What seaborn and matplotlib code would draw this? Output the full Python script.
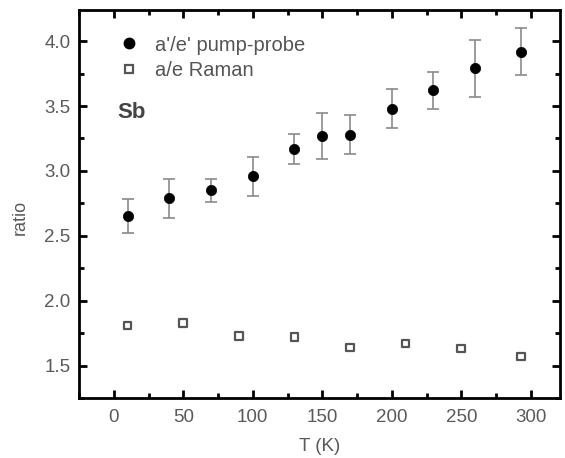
import matplotlib
matplotlib.use("Agg")
import matplotlib.pyplot as plt
from matplotlib.ticker import MultipleLocator
from matplotlib.lines import Line2D
import seaborn as sns
import pandas as pd

# Data
pp_T = [10, 40, 70, 100, 130, 150, 170, 200, 230, 260, 293]
pp_ratio = [2.65, 2.79, 2.85, 2.96, 3.17, 3.27, 3.28, 3.48, 3.62, 3.79, 3.92]
pp_err = [0.13, 0.15, 0.09, 0.15, 0.115, 0.18, 0.15, 0.15, 0.14, 0.22, 0.18]

raman_T = [10, 50, 90, 130, 170, 210, 250, 293]
raman_ratio = [1.81, 1.83, 1.73, 1.72, 1.64, 1.67, 1.63, 1.57]

label_pp = "a'/e' pump-probe"
label_raman = "a/e Raman"

sns.set_theme(style="ticks")
plt.rcParams['font.family'] = ['Liberation Sans', 'DejaVu Sans']

fig = plt.figure(figsize=(5.65, 4.58), dpi=100)
ax = fig.add_axes([79/565, 1 - 398/458, (560-79)/565, (398-10)/458])

df_pp = pd.DataFrame({"T": pp_T, "ratio": pp_ratio, "err": pp_err})
df_r = pd.DataFrame({"T": raman_T, "ratio": raman_ratio})

ax.errorbar(df_pp["T"], df_pp["ratio"], yerr=df_pp["err"], fmt="none",
            ecolor="#8a8a8a", elinewidth=1.2, capsize=4, capthick=1.2, zorder=2)
sns.scatterplot(data=df_pp, x="T", y="ratio", ax=ax, marker="o", s=55,
                color="black", edgecolor="black", linewidth=0.5, zorder=3)
sns.scatterplot(data=df_r, x="T", y="ratio", ax=ax, marker="s", s=30,
                facecolor="none", edgecolor="#555555", linewidth=1.6, zorder=3)

ax.set_xlim(-25, 321)
ax.set_ylim(1.25, 4.24)
ax.xaxis.set_major_locator(MultipleLocator(50))
ax.xaxis.set_minor_locator(MultipleLocator(25))
ax.yaxis.set_major_locator(MultipleLocator(0.5))
ax.yaxis.set_minor_locator(MultipleLocator(0.25))
ax.tick_params(which="both", direction="in", top=True, right=True, colors="black",
               labelcolor="#5a5a5a", labelsize=13.5)
ax.tick_params(which="major", length=6, width=2)
ax.tick_params(which="minor", length=3.5, width=2)
ax.tick_params(axis="x", which="major", pad=8)
ax.tick_params(axis="y", which="major", pad=6)
for s in ax.spines.values():
    s.set_linewidth(2)
    s.set_color("black")

ax.set_xlabel("T (K)", fontsize=13.5, color="#5a5a5a", va="center")
ax.set_ylabel("ratio", fontsize=13, color="#5a5a5a", va="center")
ax.xaxis.set_label_coords(0.5, -0.124)
ax.yaxis.set_label_coords(-0.123, 0.465)

handles = [
    Line2D([], [], marker="o", color="black", linestyle="none", markersize=7.5),
    Line2D([], [], marker="s", markerfacecolor="none", markeredgecolor="#555555",
           markeredgewidth=1.6, linestyle="none", markersize=5.5),
]
leg = ax.legend(handles, [label_pp, label_raman], loc="upper left",
                bbox_to_anchor=(0.057, 0.955), frameon=False, fontsize=14.5,
                handletextpad=0.6, handlelength=1.4, labelspacing=0.3,
                borderaxespad=0)
for t in leg.get_texts():
    t.set_color("#555555")

ax.text(0.08, 0.735, "Sb", transform=ax.transAxes, fontsize=16, fontweight="bold",
        color="#444444", va="center", ha="left")

fig.savefig("out.png", dpi=100)
